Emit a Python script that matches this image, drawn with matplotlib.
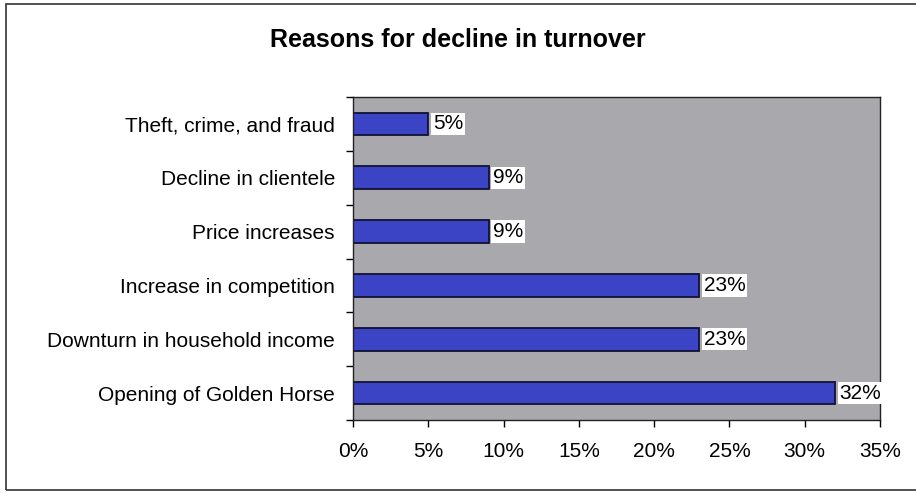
import numpy as np
import matplotlib.pyplot as plt
from matplotlib.patches import Rectangle
from matplotlib.ticker import PercentFormatter

plt.rcParams['font.family'] = ['Liberation Sans', 'DejaVu Sans']

reasons = [
    'Opening of Golden Horse',
    'Downturn in household income',
    'Increase in competition',
    'Price increases',
    'Decline in clientele',
    'Theft, crime, and fraud',
]
shares = [32, 23, 23, 9, 9, 5]
xticks = [0, 5, 10, 15, 20, 25, 30, 35]

fig = plt.figure(figsize=(9.16, 4.93), dpi=100)
fig.patch.set_facecolor('white')

# outer chart frame
fig.patches.append(Rectangle((6 / 916, 3 / 493), 1.2, 486 / 493,
                             transform=fig.transFigure, fill=False,
                             edgecolor='#333333', linewidth=1.2))

ax = fig.add_axes([353 / 916, 1 - 420 / 493, 527 / 916, 323 / 493])
ax.set_facecolor('#a9a9ad')

y = np.arange(len(reasons))
ax.barh(y, shares, height=0.42, color='#3a44c4', edgecolor='#111133', linewidth=1.3)

for yi, v in zip(y, shares):
    ax.text(v + 0.3, yi, f'{v}%', va='center', ha='left', fontsize=15,
            bbox=dict(boxstyle='square,pad=0.08', facecolor='white', edgecolor='none'))

ax.set_xlim(0, 35)
ax.set_ylim(-0.5, len(reasons) - 0.5)
ax.set_xticks(xticks)
ax.xaxis.set_major_formatter(PercentFormatter(decimals=0))
ax.set_yticks(y)
ax.set_yticklabels(reasons)
ax.set_yticks(np.arange(-0.5, len(reasons), 1), minor=True)
ax.tick_params(axis='y', which='major', length=0, pad=13, labelsize=15)
ax.tick_params(axis='y', which='minor', length=5, direction='out', width=1)
ax.tick_params(axis='x', length=5, direction='out', width=1, pad=11, labelsize=15)

for s in ax.spines.values():
    s.set_color('#222222')
    s.set_linewidth(1)

fig.text(0.5, 1 - 40 / 493, 'Reasons for decline in turnover', ha='center', va='center',
         fontsize=18, fontweight='bold')

fig.savefig('out.png', dpi=100)
